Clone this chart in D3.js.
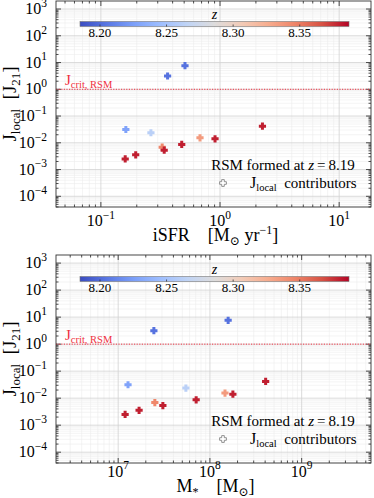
<!DOCTYPE html>
<html>
<head>
<meta charset="utf-8">
<script src="https://cdn.jsdelivr.net/npm/d3@7"></script>
<style>
  html, body { margin: 0; padding: 0; background: #fff; }
  svg { display: block; }
</style>
</head>
<body>
<svg width="374" height="498"></svg>
<script>

// data
const z_rsm = 8.19;
const J_local = [7.6, 3.14, 0.0417, 0.0314, 0.0237, 0.0154, 0.0141, 0.0087, 0.00686, 0.0053, 0.00356, 0.0025];
const iSFR = [0.508, 0.363, 2.27, 0.162, 0.263, 0.679, 0.908, 0.477, 0.327, 0.340, 0.196, 0.160];
const M_star = [1.58e8, 2.45e7, 4.05e8, 1.28e7, 5.47e7, 1.46e8, 1.78e8, 7.08e7, 2.51e7, 3.07e7, 1.69e7, 1.19e7];
const z_form = [8.203, 8.203, 8.38, 8.228, 8.262, 8.335, 8.38, 8.38, 8.345, 8.38, 8.38, 8.38];

const cbar_ticks = [8.20, 8.25, 8.30, 8.35];
const cbar_domain = [8.185, 8.387];
const J_crit = 1;

const y_exps = [-4, -3, -2, -1, 0, 1, 2, 3];
const sfr_exps = [-1, 0, 1];
const mass_exps = [7, 8, 9];

// coolwarm
const coolwarm_stops = ["#3b4cc0", "#5977e3", "#7b9ff9", "#9ebeff", "#c0d4f5", "#dddcdc",
                        "#f2cbb7", "#f7ac8e", "#ee8468", "#d65244", "#b40426"];
const coolwarm = d3.piecewise(d3.interpolateRgb, coolwarm_stops);
const color = d3.scaleSequential(coolwarm).domain(cbar_domain);

const svg = d3.select('svg')
    .attr("font-family", "'Liberation Serif', 'Times New Roman', 'DejaVu Serif', serif");
const margin = {left: 56, right: 3};
const width = 374;
const innerWidth = width - margin.left - margin.right;

const defs = svg.append("defs");
const grad = defs.append("linearGradient").attr("id", "cw");
d3.range(0, 1.0001, 0.05).forEach(t => {
    grad.append("stop").attr("offset", t).attr("stop-color", coolwarm(t));
});

function plus_path(a, t) {
    return `M${-t},${-a}H${t}V${-t}H${a}V${t}H${t}V${a}H${-t}V${t}H${-a}V${-t}H${-t}Z`;
}

function sup_label(sel, exp, sz) {
    sel.append("tspan").text("10");
    sel.append("tspan")
        .attr("dy", -sz * 0.45)
        .attr("font-size", sz * 0.72)
        .text(exp < 0 ? "\u2212" + (-exp) : exp);
}

function minor_values(exps_lo, exps_hi) {
    const out = [];
    for (let e = exps_lo; e <= exps_hi; e++) {
        for (let m = 1; m <= 9; m++) out.push(m * Math.pow(10, e));
    }
    return out;
}

function plot_panel(panel) {

    const g = svg.append("g").attr("transform", `translate(${margin.left}, ${panel.top})`);
    const innerHeight = panel.bottom - panel.top;

    const x = d3.scaleLog().domain(panel.x_domain).range([0, innerWidth]);
    const y = d3.scaleLog().domain([Math.pow(10, -4.4), Math.pow(10, 3.3)]).range([innerHeight, 0]);

    const x_all = minor_values(Math.floor(Math.log10(panel.x_domain[0])), Math.floor(Math.log10(panel.x_domain[1])))
        .filter(v => v >= panel.x_domain[0] && v <= panel.x_domain[1]);
    const y_all = minor_values(-5, 3).filter(v => v >= y.domain()[0] && v <= y.domain()[1]);
    const is_major = v => Math.abs(Math.log10(v) - Math.round(Math.log10(v))) < 1e-9;

    // grid
    g.append("g").selectAll("line")
        .data(x_all.filter(v => !is_major(v)))
        .join("line")
        .attr("x1", d => x(d)).attr("x2", d => x(d))
        .attr("y1", 0).attr("y2", innerHeight)
        .attr("stroke", "#ededed").attr("stroke-width", 0.6);
    g.append("g").selectAll("line")
        .data(y_all.filter(v => !is_major(v)))
        .join("line")
        .attr("y1", d => y(d)).attr("y2", d => y(d))
        .attr("x1", 0).attr("x2", innerWidth)
        .attr("stroke", "#ededed").attr("stroke-width", 0.6);
    g.append("g").selectAll("line")
        .data(x_all.filter(is_major))
        .join("line")
        .attr("x1", d => x(d)).attr("x2", d => x(d))
        .attr("y1", 0).attr("y2", innerHeight)
        .attr("stroke", "#d2d2d2").attr("stroke-width", 0.8);
    g.append("g").selectAll("line")
        .data(y_all.filter(is_major))
        .join("line")
        .attr("y1", d => y(d)).attr("y2", d => y(d))
        .attr("x1", 0).attr("x2", innerWidth)
        .attr("stroke", "#d2d2d2").attr("stroke-width", 0.8);

    // ticks on all four sides, pointing in
    const tick_len = v => is_major(v) ? 5 : 2.5;
    const ticks = g.append("g").attr("stroke", "#222").attr("stroke-width", 0.8);
    x_all.forEach(v => {
        ticks.append("line").attr("x1", x(v)).attr("x2", x(v)).attr("y1", innerHeight).attr("y2", innerHeight - tick_len(v));
        ticks.append("line").attr("x1", x(v)).attr("x2", x(v)).attr("y1", 0).attr("y2", tick_len(v));
    });
    y_all.forEach(v => {
        ticks.append("line").attr("y1", y(v)).attr("y2", y(v)).attr("x1", 0).attr("x2", tick_len(v));
        ticks.append("line").attr("y1", y(v)).attr("y2", y(v)).attr("x1", innerWidth).attr("x2", innerWidth - tick_len(v));
    });

    // critical line
    g.append("line")
        .attr("x1", 0).attr("x2", innerWidth)
        .attr("y1", y(J_crit)).attr("y2", y(J_crit))
        .attr("stroke", "#f03040").attr("stroke-width", 1)
        .attr("stroke-dasharray", "1.2,1.4");

    const crit = g.append("text")
        .attr("x", 9).attr("y", y(J_crit) - 4.5)
        .attr("fill", "#f03040").attr("font-size", 15);
    crit.append("tspan").text("J");
    crit.append("tspan").attr("dy", 3).attr("font-size", 10.5).text("crit, RSM");

    // colorbar
    const cb = d3.scaleLinear().domain(cbar_domain).range([24, 293]);
    const cb_y = panel.cbar_y;
    g.append("rect")
        .attr("x", cb.range()[0]).attr("y", cb_y)
        .attr("width", cb.range()[1] - cb.range()[0]).attr("height", 5)
        .attr("fill", "url(#cw)").attr("stroke", "#777").attr("stroke-width", 0.6);
    g.append("g").selectAll("line")
        .data(cbar_ticks)
        .join("line")
        .attr("x1", d => cb(d)).attr("x2", d => cb(d))
        .attr("y1", cb_y + 5).attr("y2", cb_y + 3)
        .attr("stroke", "#333").attr("stroke-width", 0.8);
    g.append("g").selectAll("text")
        .data(cbar_ticks)
        .join("text")
        .attr("x", d => cb(d)).attr("y", cb_y + 15)
        .attr("text-anchor", "middle").attr("font-size", 13)
        .text(d => d.toFixed(2));
    g.append("text")
        .attr("x", (cb.range()[0] + cb.range()[1]) / 2).attr("y", cb_y - 3)
        .attr("text-anchor", "middle").attr("font-size", 14).attr("font-style", "italic")
        .text("z");

    // points
    const pts = J_local.map((j, i) => ({x: panel.x_values[i], y: j, z: z_form[i]}));
    g.append("g").selectAll("path")
        .data(pts)
        .join("path")
        .attr("d", plus_path(3.6, 1.5))
        .attr("transform", d => `translate(${x(d.x)}, ${y(d.y)})`)
        .attr("fill", d => color(d.z));

    // legend
    const leg = g.append("g").attr("font-size", 15);
    const lt = leg.append("text").attr("x", 227).attr("y", innerHeight - 37).attr("text-anchor", "middle");
    lt.append("tspan").text("RSM formed at ");
    lt.append("tspan").attr("font-style", "italic").text("z");
    lt.append("tspan").text("\u2009=\u2009" + z_rsm.toFixed(2));
    leg.append("path")
        .attr("d", plus_path(3.4, 1.3))
        .attr("transform", `translate(167, ${innerHeight - 24})`)
        .attr("fill", "#fff").attr("stroke", "#777").attr("stroke-width", 0.8);
    const l2 = leg.append("text").attr("x", 194).attr("y", innerHeight - 19);
    l2.append("tspan").attr("font-size", 16).text("J");
    l2.append("tspan").attr("dy", 3).attr("font-size", 10.5).text("local");
    l2.append("tspan").attr("dy", -3).text("\u2002contributors");

    // frame
    g.append("rect")
        .attr("width", innerWidth).attr("height", innerHeight)
        .attr("fill", "none").attr("stroke", "#333").attr("stroke-width", 0.9);

    // tick labels
    y_exps.forEach(e => {
        const t = g.append("text")
            .attr("x", -9).attr("y", y(Math.pow(10, e)) + 5)
            .attr("text-anchor", "end").attr("font-size", 16);
        sup_label(t, e, 16);
    });
    panel.x_exps.forEach(e => {
        const t = g.append("text")
            .attr("x", x(Math.pow(10, e))).attr("y", innerHeight + panel.tick_dy)
            .attr("text-anchor", "middle").attr("font-size", 16);
        sup_label(t, e, 16);
    });

    // axis labels
    const yl = g.append("text")
        .attr("transform", `translate(-40, ${innerHeight / 2}) rotate(-90)`)
        .attr("text-anchor", "middle").attr("font-size", 19);
    yl.append("tspan").text("J");
    yl.append("tspan").attr("dy", 4).attr("font-size", 13).text("local");
    yl.append("tspan").attr("dy", -4).text("\u2002[J");
    yl.append("tspan").attr("dy", 4).attr("font-size", 13).text("21");
    yl.append("tspan").attr("dy", -4).text("]");

    const xl = g.append("text")
        .attr("x", innerWidth / 2 + 2).attr("y", innerHeight + panel.label_dy)
        .attr("text-anchor", "middle").attr("font-size", 18);
    panel.x_label(xl);
}

plot_panel({
    top: 1, bottom: 207, cbar_y: 20.5, tick_dy: 19, label_dy: 34,
    x_domain: [0.042, 18.5], x_values: iSFR, x_exps: sfr_exps,
    x_label: t => {
        t.append("tspan").text("iSFR\u2003[M");
        t.append("tspan").attr("dy", 4).attr("font-size", 12).text("\u2299");
        t.append("tspan").attr("dy", -4).text(" yr");
        t.append("tspan").attr("dy", -7).attr("font-size", 12).text("\u22121");
        t.append("tspan").attr("dy", 7).text("]");
    }
});

plot_panel({
    top: 255, bottom: 463, cbar_y: 21.5, tick_dy: 13.5, label_dy: 29,
    x_domain: [2.1e6, 5.7e9], x_values: M_star, x_exps: mass_exps,
    x_label: t => {
        t.append("tspan").text("M");
        t.append("tspan").attr("dy", 4).attr("font-size", 12).text("*");
        t.append("tspan").attr("dy", -4).text("\u2003[M");
        t.append("tspan").attr("dy", 4).attr("font-size", 12).text("\u2299");
        t.append("tspan").attr("dy", -4).text("]");
    }
});

</script>
</body>
</html>
